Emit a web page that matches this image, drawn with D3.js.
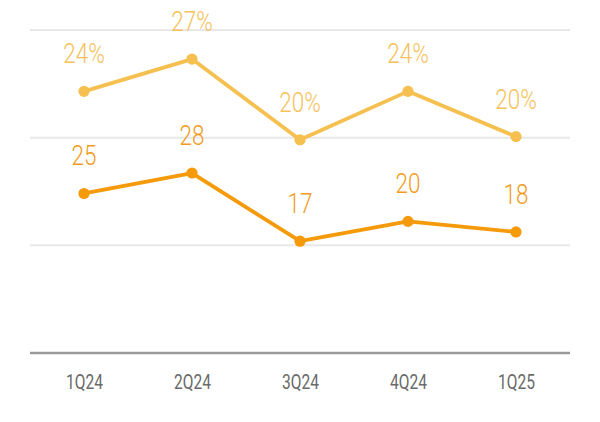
<!DOCTYPE html>
<html>
<head>
<meta charset="utf-8">
<script src="https://cdn.jsdelivr.net/npm/d3@7/dist/d3.min.js"></script>
<style>
  html, body { margin: 0; padding: 0; background: #fff; }
  svg { display: block; }
  text { font-family: Roboto, "Noto Sans", sans-serif; font-weight: 300; }
</style>
</head>
<body>
<svg id="chart" width="600" height="422"></svg>
<script>
const categories = ["1Q24", "2Q24", "3Q24", "4Q24", "1Q25"];
const shareValues = [24.3, 27.3, 19.8, 24.3, 20.1];   // %
const countValues = [24.6, 27.9, 16.9, 20.1, 18.4];
const gridTicks = [0, 10, 20, 30];

(function () {
const svg = d3.select("#chart");
const mLeft = 30, mRight = 570, mBottom = 353, mTop = 30;

const x = d3.scalePoint().domain(categories).range([mLeft, mRight]).padding(0.5);
const yPct = d3.scaleLinear().domain([0, 30]).range([mBottom, mTop]);
const yCnt = d3.scaleLinear().domain([0, 50]).range([346, 36]);

// gridlines
svg.append("g").selectAll("line").data(gridTicks.filter(d => d > 0)).join("line")
  .attr("x1", mLeft).attr("x2", mRight)
  .attr("y1", d => yPct(d)).attr("y2", d => yPct(d))
  .attr("stroke", "#e8e8e8").attr("stroke-width", 2);

// x axis
const xAxis = svg.append("g").attr("transform", `translate(0,${yPct(0)})`)
  .call(d3.axisBottom(x).tickSize(0).tickPadding(0));
xAxis.select(".domain").attr("stroke", "#9a9a9a").attr("stroke-width", 2.5)
  .attr("d", `M${mLeft},0H${mRight}`);
xAxis.selectAll("text").attr("fill", "#6a6a6a").attr("font-size", 20.5)
  .style("font-weight", 400)
  .attr("y", 0).attr("dy", 0)
  .attr("transform", "translate(0,35.7) scale(0.76,1)");

function drawSeries(values, scale, color, labelColor, fmt) {
  const line = d3.line().x((d, i) => x(categories[i])).y(d => scale(d));
  svg.append("path").datum(values)
    .attr("d", line).attr("fill", "none")
    .attr("stroke", color).attr("stroke-width", 3.8)
    .attr("stroke-linejoin", "round");
  svg.append("g").selectAll("circle").data(values).join("circle")
    .attr("cx", (d, i) => x(categories[i])).attr("cy", d => scale(d))
    .attr("r", 5.6).attr("fill", color);
  svg.append("g").selectAll("text").data(values).join("text")
    .attr("transform", (d, i) => `translate(${x(categories[i])},${scale(d) - 28}) scale(0.82,1)`)
    .attr("text-anchor", "middle").attr("font-size", 27.4)
    .attr("fill", labelColor).text(fmt);
}

drawSeries(shareValues, yPct, "#f5c04f", "#f5c25a", d => Math.round(d) + "%");
drawSeries(countValues, yCnt, "#f59a0a", "#f29b22", d => Math.round(d));
})();
</script>
</body>
</html>
